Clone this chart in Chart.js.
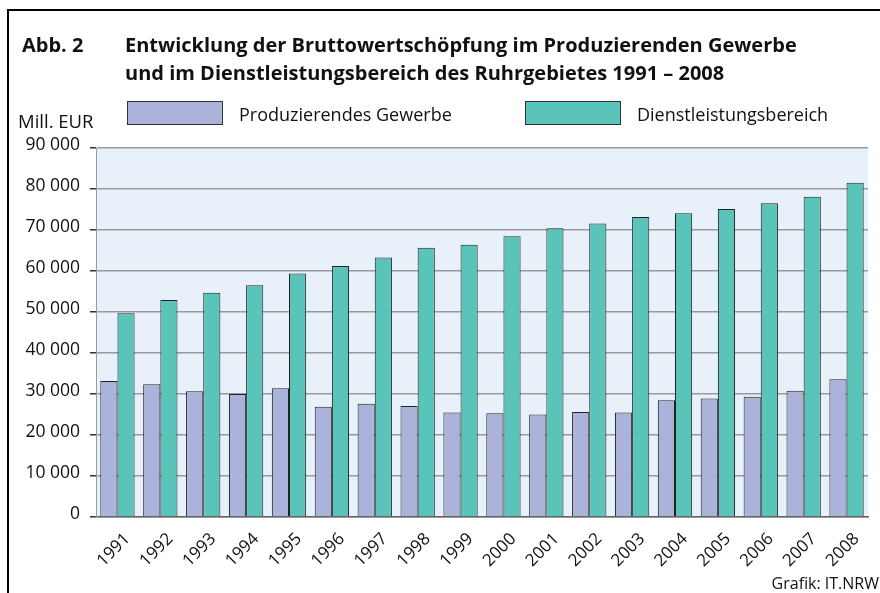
<!DOCTYPE html>
<html>
<head>
<meta charset="utf-8">
<script src="https://cdn.jsdelivr.net/npm/chart.js@4"></script>
<style>
  html, body { margin: 0; padding: 0; background: #fff; overflow: hidden; }
  #wrap { position: relative; width: 880px; height: 593px; font-family: "Open Sans", "Noto Sans", sans-serif; color: #111; }
  #frame { position: absolute; left: 7px; top: 9px; width: 900px; height: 620px; border: 2px solid #000; box-sizing: border-box; }
  canvas { position: absolute; left: 0; top: 0; }
  .t { position: absolute; white-space: nowrap; }
  .title { font-weight: bold; font-size: 20px; line-height: 28px; }
  .lbl { font-size: 18px; }
  .box { position: absolute; width: 94px; height: 22px; border: 1px solid #333; }
</style>
</head>
<body>
<div id="wrap">
  <div id="frame"></div>
  <canvas id="myChart" width="880" height="593"></canvas>
  <div class="t title" style="left:22px; top:31px;">Abb. 2</div>
  <div class="t title" style="left:125px; top:31px;">Entwicklung der Bruttowertschöpfung im Produzierenden Gewerbe<br>und im Dienstleistungsbereich des Ruhrgebietes 1991 – 2008</div>
  <div class="t lbl" style="left:18px; top:108px; font-size:18.5px;">Mill. EUR</div>
  <div id="legend"></div>
  <div class="t" style="right:1px; top:572px; font-size:16px;">Grafik: IT.NRW</div>
</div>
<script>
var years = ['1991', '1992', '1993', '1994', '1995', '1996', '1997', '1998', '1999',
    '2000', '2001', '2002', '2003', '2004', '2005', '2006', '2007', '2008'];
var produzierend = [33200, 32400, 30700, 30000, 31400, 26900, 27600, 27100, 25500,
    25300, 25000, 25600, 25500, 28500, 28900, 29300, 30800, 33600];
var dienstleistung = [49700, 52900, 54700, 56500, 59400, 61200, 63300, 65700, 66400,
    68500, 70400, 71600, 73200, 74100, 75100, 76500, 78100, 81500];
var yTicks = [0, 10000, 20000, 30000, 40000, 50000, 60000, 70000, 80000, 90000];

var seriesNames = ['Produzierendes Gewerbe', 'Dienstleistungsbereich'];
var seriesColors = ['#abb3da', '#5bc4ba'];

// legend as html, boxes + names
var legendPos = [[127, 239], [525, 637]];
var legendHtml = '';
seriesNames.forEach(function (name, i) {
    legendHtml += '<div class="box" style="left:' + legendPos[i][0] + 'px; top:101px; background:' + seriesColors[i] + ';"></div>';
    legendHtml += '<div class="t lbl" style="left:' + legendPos[i][1] + 'px; top:102px;">' + name + '</div>';
});
document.getElementById('legend').innerHTML = legendHtml;

function formatNum(v) {
    return String(v).replace(/\B(?=(\d{3})+(?!\d))/g, ' ');
}

var plotBg = {
    id: 'plotBg',
    beforeDraw: function (chart) {
        var a = chart.chartArea;
        var c = chart.ctx;
        c.save();
        c.fillStyle = '#e8f0fa';
        c.fillRect(a.left, a.top, a.right - a.left, a.bottom - a.top);
        c.restore();
    }
};

var ctx = document.getElementById('myChart').getContext('2d');
var myChart = new Chart(ctx, {
    type: 'bar',
    data: {
        labels: years,
        datasets: [{
            label: seriesNames[0],
            data: produzierend,
            backgroundColor: seriesColors[0],
            borderColor: '#222',
            borderWidth: 1
        }, {
            label: seriesNames[1],
            data: dienstleistung,
            backgroundColor: seriesColors[1],
            borderColor: '#222',
            borderWidth: 1
        }]
    },
    options: {
        responsive: false,
        animation: false,
        layout: { padding: { top: 148, right: 12, left: 0, bottom: 0 } },
        datasets: { bar: { categoryPercentage: 0.8, barPercentage: 1.0 } },
        plugins: { legend: { display: false }, tooltip: { enabled: false } },
        scales: {
            x: {
                grid: { display: false },
                border: { display: true, color: '#666', width: 1.5 },
                ticks: {
                    color: '#111',
                    font: { family: '"Open Sans", "Noto Sans", sans-serif', size: 17 },
                    minRotation: 45,
                    maxRotation: 45,
                    padding: 4,
                    labelOffset: 10
                },
                afterFit: function (scale) { scale.height = 76; }
            },
            y: {
                min: 0,
                max: 90000,
                afterBuildTicks: function (scale) {
                    scale.ticks = yTicks.map(function (v) { return { value: v }; });
                },
                grid: { color: '#9a9a9a', lineWidth: 1.5, tickColor: '#333', tickLength: 6 },
                border: { display: true, color: '#9a9a9a', width: 1 },
                ticks: {
                    color: '#111',
                    font: { family: '"Open Sans", "Noto Sans", sans-serif', size: 17.5 },
                    padding: 10,
                    labelOffset: -3,
                    callback: function (v) { return formatNum(v); }
                },
                afterFit: function (scale) { scale.width = 96; }
            }
        }
    },
    plugins: [plotBg]
});
</script>
</body>
</html>
